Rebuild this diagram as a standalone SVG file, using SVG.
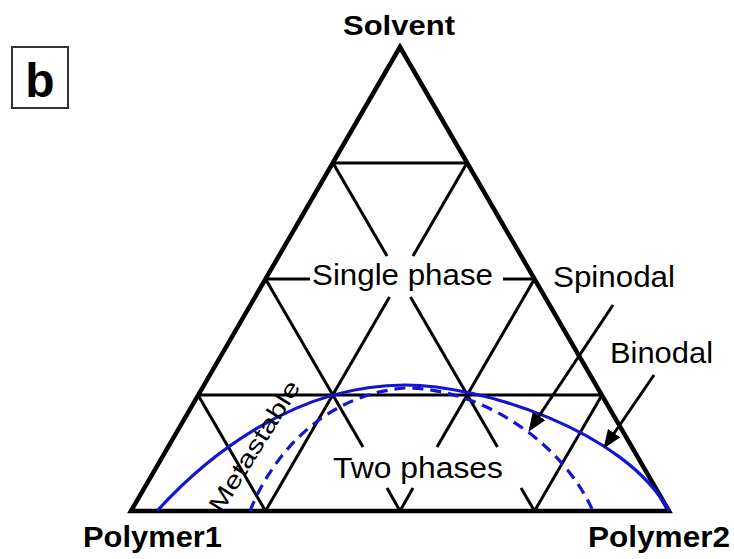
<svg xmlns="http://www.w3.org/2000/svg" width="734" height="559" viewBox="0 0 734 559">
<style>
.edge{fill:none;stroke:#000;stroke-width:4.5;stroke-linejoin:miter}
.grid line{stroke:#000;stroke-width:3;stroke-linecap:butt}
.bin{fill:none;stroke:#1414d2;stroke-width:3.2}
.spin{fill:none;stroke:#1414d2;stroke-width:3.2;stroke-dasharray:11 7}
.lbl{font-family:"Liberation Sans",Arial,sans-serif;font-size:29px;fill:#000}
.bold{font-weight:bold}
.arr{stroke:#000;stroke-width:3;fill:none}
</style>
<defs>
<marker id="ah" markerUnits="userSpaceOnUse" markerWidth="19" markerHeight="16" refX="15" refY="8" orient="auto">
<path d="M0,0.5 L19,8 L0,15.5 z" fill="#000"/>
</marker>
</defs>
<rect width="734" height="559" fill="#fff"/>
<g id="panel-label">
<rect x="12" y="47" width="56" height="61" fill="none" stroke="#333" stroke-width="2"/>
<text x="40" y="97" text-anchor="middle" class="lbl bold" style="font-size:48px">b</text>
</g>
<g id="grid" class="grid">
<line x1="333" y1="163" x2="467" y2="163"/>
<line x1="265.5" y1="279" x2="310" y2="279"/>
<line x1="503" y1="279" x2="534.5" y2="279"/>
<line x1="198" y1="395" x2="602" y2="395"/>
<line x1="333" y1="163" x2="387" y2="256"/>
<line x1="410.5" y1="297" x2="497.5" y2="447"/>
<line x1="521" y1="488" x2="534.5" y2="511"/>
<line x1="265.5" y1="279" x2="363" y2="447"/>
<line x1="387" y1="488" x2="400" y2="511"/>
<line x1="198" y1="395" x2="265.5" y2="511"/>
<line x1="467" y1="163" x2="413" y2="256"/>
<line x1="389.5" y1="297" x2="265.5" y2="511"/>
<line x1="534.5" y1="279" x2="437" y2="447"/>
<line x1="413" y1="488" x2="400" y2="511"/>
<line x1="602" y1="395" x2="534.5" y2="511"/>
</g>
<g id="triangle">
<polygon class="edge" points="400,47 131,511 669,511"/>
</g>
<g id="binodal">
<path class="bin" d="M157,511 C207,456 295,385 405,385 C480,385 625,430 669,511"/>
</g>
<g id="spinodal">
<path class="spin" d="M250,511 C270,460 320,395 405,388 C480,388 560,440 592,509"/>
</g>
<g id="connectors">
<line class="arr" x1="613" y1="305" x2="530.7" y2="428.5" marker-end="url(#ah)"/>
<line class="arr" x1="654" y1="375" x2="605.7" y2="445.5" marker-end="url(#ah)"/>
</g>
<g id="labels">
<text class="lbl bold" x="343" y="35" textLength="112" lengthAdjust="spacingAndGlyphs" style="font-size:28px">Solvent</text>
<text class="lbl bold" x="83" y="547" textLength="139" lengthAdjust="spacingAndGlyphs">Polymer1</text>
<text class="lbl bold" x="588" y="547" textLength="142" lengthAdjust="spacingAndGlyphs">Polymer2</text>
<text class="lbl" x="312" y="285" textLength="181" lengthAdjust="spacingAndGlyphs">Single phase</text>
<text class="lbl" x="553" y="287" textLength="122" lengthAdjust="spacingAndGlyphs">Spinodal</text>
<text class="lbl" x="610" y="363" textLength="103" lengthAdjust="spacingAndGlyphs">Binodal</text>
<text class="lbl" x="333" y="478" textLength="170" lengthAdjust="spacingAndGlyphs">Two phases</text>
<g transform="translate(254,446) rotate(-58)">
<text class="lbl" x="0" y="8.5" text-anchor="middle" textLength="150" lengthAdjust="spacingAndGlyphs" style="font-size:24px">Metastable</text>
</g>
</g>
</svg>
